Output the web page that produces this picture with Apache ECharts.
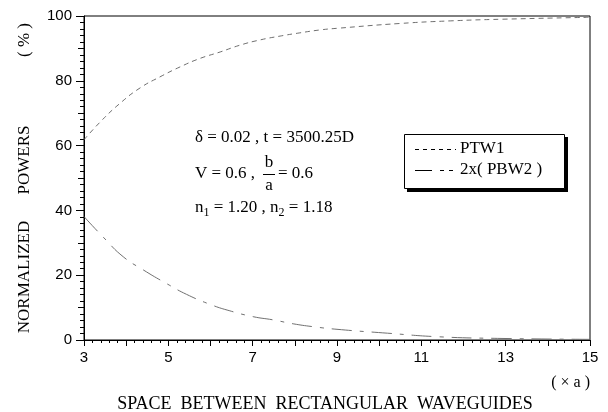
<!DOCTYPE html>
<html><head><meta charset="utf-8">
<script src="https://cdn.jsdelivr.net/npm/echarts@6/dist/echarts.min.js"></script>
<style>html,body{margin:0;padding:0;background:#fff}#c{width:608px;height:412px}</style>
</head><body><div id="c"></div>
<script>
// ---- data ----
const seriesNames = ['PTW1', '2x( PBW2 )'];
const ptwX = [3.0, 3.4, 3.85, 4.33, 4.8, 5.28, 5.75, 6.23, 6.7, 7.17, 7.65, 8.12, 8.6, 9.0, 10.5, 11.7, 12.9, 15.0];
const ptwY = [61.8, 67.5, 73.0, 77.8, 81.2, 84.3, 86.9, 88.9, 91.0, 92.6, 93.8, 94.8, 95.7, 96.2, 97.7, 98.5, 99.0, 99.6];
const pbwX = [3.0, 3.46, 3.93, 4.41, 4.96, 5.43, 5.99, 6.46, 7.01, 7.49, 7.96, 8.44, 9.0, 10.2, 11.4, 12.8, 15.0];
const pbwY = [38.1, 31.7, 25.7, 21.6, 17.4, 14.1, 11.0, 9.0, 7.2, 6.2, 5.0, 4.1, 3.3, 2.1, 1.0, 0.5, 0.2];
const xTickLabels = [3, 5, 7, 9, 11, 13, 15];
const yTickLabels = [0, 20, 40, 60, 80, 100];

const ptwData = ptwX.map((x, i) => [x, ptwY[i]]);
const pbwData = pbwX.map((x, i) => [x, pbwY[i]]);

const serif = 'Liberation Serif';
const sans = 'Liberation Sans';
const lineColor = '#707070';
const ptwDash = [5, 4];
const pbwDash = [20, 8, 4, 8];
const chart = echarts.init(document.getElementById('c'));
const yAxisCommon = { type: 'value', min: 0, max: 100, splitLine: { show: false } };
const T = (x, y, text, size, extra) => ({ type: 'text', z: 100,
  style: Object.assign({ x, y, text, font: size + 'px ' + serif, fill: '#000', align: 'left', verticalAlign: 'middle' }, extra || {}) });
const V = (x, y, text) => ({ type: 'text', x, y, rotation: Math.PI / 2,
  style: { x: 0, y: 0, text, font: '17px ' + serif, fill: '#000', align: 'center', verticalAlign: 'middle' } });
chart.setOption({
  animation: false,
  backgroundColor: '#fff',
  grid: { left: 84, right: 18, top: 16, bottom: 72, show: true, borderColor: '#000', borderWidth: 1 },
  xAxis: {
    type: 'value', min: 3, max: 15, interval: 1,
    axisLine: { lineStyle: { color: '#000', width: 1 } },
    axisTick: { show: true, length: 6, inside: false, lineStyle: { color: '#000' } },
    minorTick: { show: true, splitNumber: 5, length: 3, lineStyle: { color: '#000' } },
    splitLine: { show: false },
    axisLabel: {
      margin: 10, color: '#000', fontFamily: sans, fontSize: 15,
      formatter: v => xTickLabels.includes(v) ? String(v) : ''
    }
  },
  yAxis: [
    Object.assign({}, yAxisCommon, {
      interval: 20,
      axisLine: { show: true, lineStyle: { color: '#000', width: 1 } },
      axisTick: { show: true, length: 8, lineStyle: { color: '#000' } },
      minorTick: { show: true, splitNumber: 10, length: 4, lineStyle: { color: '#000' } },
      axisLabel: {
        margin: 12, color: '#000', fontFamily: sans, fontSize: 15,
        formatter: v => yTickLabels.includes(v) ? String(v) : ''
      }
    }),
    Object.assign({}, yAxisCommon, {
      interval: 10, position: 'left',
      axisLine: { show: false },
      axisTick: { show: true, length: 6, lineStyle: { color: '#000' } },
      axisLabel: { show: false }
    })
  ],
  series: [
    {
      name: seriesNames[0], type: 'line', smooth: true, symbol: 'none',
      data: ptwData,
      lineStyle: { color: lineColor, width: 1, type: ptwDash }
    },
    {
      name: seriesNames[1], type: 'line', smooth: true, symbol: 'none',
      data: pbwData,
      lineStyle: { color: lineColor, width: 1, type: pbwDash }
    }
  ],
  graphic: [
    V(25, 277, 'NORMALIZED'),
    V(25, 160, 'POWERS'),
    V(25, 40, '( % )'),
    T(325, 404, 'SPACE  BETWEEN  RECTANGULAR  WAVEGUIDES', 18, { align: 'center' }),
    T(590, 383, '( × a )', 16, { align: 'right' }),
    T(195, 138, 'δ = 0.02 , t = 3500.25D', 17),
    T(195, 174, 'V = 0.6 ,', 17),
    T(269, 163, 'b', 17, { align: 'center' }),
    { type: 'line', z: 100, shape: { x1: 263, y1: 174.5, x2: 275, y2: 174.5 }, style: { stroke: '#000', lineWidth: 1 } },
    T(269, 186, 'a', 17, { align: 'center' }),
    T(278, 174, '= 0.6', 17),
    T(195, 208, '{n|n}{s|1}{n| = 1.20 , n}{s|2}{n| = 1.18}', 17, {
      rich: { n: { fontFamily: serif, fontSize: 17, lineHeight: 22, verticalAlign: 'middle' },
              s: { fontFamily: serif, fontSize: 12, lineHeight: 12, verticalAlign: 'bottom' } } }),
    // legend box with a hard drop shadow, drawn by hand to match the reference
    { type: 'rect', z: 89, shape: { x: 407, y: 137, width: 161, height: 55 }, style: { fill: '#000' } },
    { type: 'rect', z: 90, shape: { x: 404.5, y: 134.5, width: 160, height: 54 },
      style: { fill: '#fff', stroke: '#000', lineWidth: 1 } },
    { type: 'line', z: 95, shape: { x1: 415, y1: 149.5, x2: 456, y2: 149.5 }, style: { stroke: '#000', lineWidth: 1, lineDash: [4, 4] } },
    { type: 'line', z: 95, shape: { x1: 415, y1: 170.5, x2: 456, y2: 170.5 }, style: { stroke: '#000', lineWidth: 1, lineDash: [17, 8, 4, 5, 4, 20] } },
    T(460, 149, seriesNames[0], 17),
    T(460, 170, seriesNames[1], 17)
  ]
});
</script>
</body></html>
